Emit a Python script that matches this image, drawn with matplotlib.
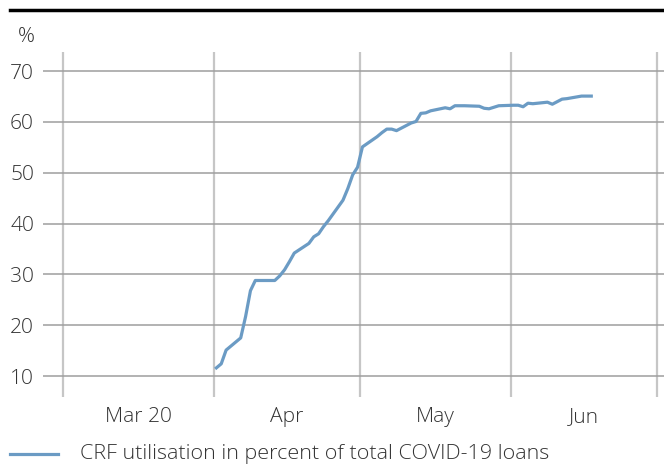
import matplotlib
matplotlib.use("Agg")
import matplotlib.pyplot as plt
import matplotlib.dates as mdates
import pandas as pd
from matplotlib.lines import Line2D

plt.rcParams['font.family'] = ['Open Sans', 'DejaVu Sans']
plt.rcParams['font.weight'] = 'light'

# CRF utilisation in percent of total COVID-19 loans (daily, 2020)
dates = ["2020-04-01", "2020-04-02", "2020-04-03", "2020-04-06", "2020-04-07",
         "2020-04-08", "2020-04-09", "2020-04-13", "2020-04-14", "2020-04-15",
         "2020-04-16", "2020-04-17", "2020-04-20", "2020-04-21", "2020-04-22",
         "2020-04-23", "2020-04-24", "2020-04-27", "2020-04-28", "2020-04-29",
         "2020-04-30", "2020-05-01", "2020-05-04", "2020-05-05", "2020-05-06",
         "2020-05-07", "2020-05-08", "2020-05-11", "2020-05-12", "2020-05-13",
         "2020-05-14", "2020-05-15", "2020-05-18", "2020-05-19", "2020-05-20",
         "2020-05-22", "2020-05-25", "2020-05-26", "2020-05-27", "2020-05-28",
         "2020-05-29", "2020-06-01", "2020-06-02", "2020-06-03", "2020-06-04",
         "2020-06-05", "2020-06-08", "2020-06-09", "2020-06-10", "2020-06-11",
         "2020-06-12", "2020-06-15", "2020-06-16", "2020-06-17"]
utilisation = [11.6, 12.4, 15.1, 17.5, 21.7,
               26.8, 28.8, 28.8, 29.7, 30.9,
               32.5, 34.2, 36.1, 37.4, 38.0,
               39.4, 40.6, 44.6, 46.9, 49.6,
               51.1, 55.1, 57.1, 57.9, 58.6,
               58.6, 58.3, 59.8, 60.1, 61.7,
               61.8, 62.2, 62.8, 62.6, 63.2,
               63.2, 63.1, 62.7, 62.6, 62.9,
               63.2, 63.3, 63.3, 63.0, 63.7,
               63.6, 63.9, 63.5, 64.0, 64.5,
               64.6, 65.1, 65.1, 65.1]

month_edges = ["2020-03-01", "2020-04-01", "2020-05-01", "2020-06-01", "2020-07-01"]
month_labels = ["Mar 20", "Apr", "May", "Jun"]
yticks = [10, 20, 30, 40, 50, 60, 70]
legend_label = "CRF utilisation in percent of total COVID-19 loans"

line_color = "#6b9bc4"
text_color = "#333333"

W, H = 664, 465
fig = plt.figure(figsize=(W / 100, H / 100), dpi=100)


def fit_size(s, width_px):
    # font size that makes string s about width_px wide
    t = fig.text(0, 0, s, fontsize=10)
    w = t.get_window_extent(fig.canvas.get_renderer()).width
    t.remove()
    return 10 * width_px / w


fs = fit_size("Mar 20", 67)
fs_leg = fit_size(legend_label, 468)

ax = fig.add_axes([43 / W, 1 - 397 / H, (664 - 43) / W, (397 - 52) / H])

x = pd.to_datetime(dates) + pd.Timedelta(hours=12)
edges = pd.to_datetime(month_edges)
ax.plot(x, utilisation, color=line_color, lw=2.3, zorder=3)

# axis limits chosen so month boundaries fall on the reference gridlines
px_per_day = (657 - 63) / 122
left = edges[0] - pd.Timedelta(days=(63 - 43) / px_per_day)
right = edges[-1] + pd.Timedelta(days=(664 - 657) / px_per_day)
ax.set_xlim(left, right)
ax.set_ylim(10 - (397 - 376) / 5.08, 10 + (376 - 52) / 5.08)

for e in edges:
    ax.axvline(e, color="#c6c6c6", lw=1.6, zorder=1)
for v in yticks:
    ax.axhline(v, color="#9e9e9e", lw=1.1, zorder=2)

ax.set_yticks(yticks)
ax.set_xticks([])
ax.tick_params(axis='y', length=0, pad=6.5, labelsize=fs, labelcolor=text_color)
for s in ax.spines.values():
    s.set_visible(False)

mids = [edges[i] + (edges[i + 1] - edges[i]) / 2 for i in range(len(month_labels))]
for m, lab in zip(mids, month_labels):
    ax.text(mdates.date2num(m), -(422 - 397) / 345, lab, transform=ax.get_xaxis_transform(),
            ha='center', va='baseline', fontsize=fs, color=text_color)

fig.text(26 / W, 1 - 42 / H, "%", ha='center', va='baseline', fontsize=fs, color=text_color)

# thick rule at top
fig.add_artist(Line2D([10 / W, 1], [1 - 10 / H, 1 - 10 / H], color="black", lw=2.5))

# legend
fig.add_artist(Line2D([10 / W, 58 / W], [1 - 454 / H, 1 - 454 / H], color=line_color, lw=2.3))
fig.text(80 / W, 1 - 459 / H, legend_label,
         ha='left', va='baseline', fontsize=fs_leg, color=text_color)

fig.savefig("out.png", dpi=100)
